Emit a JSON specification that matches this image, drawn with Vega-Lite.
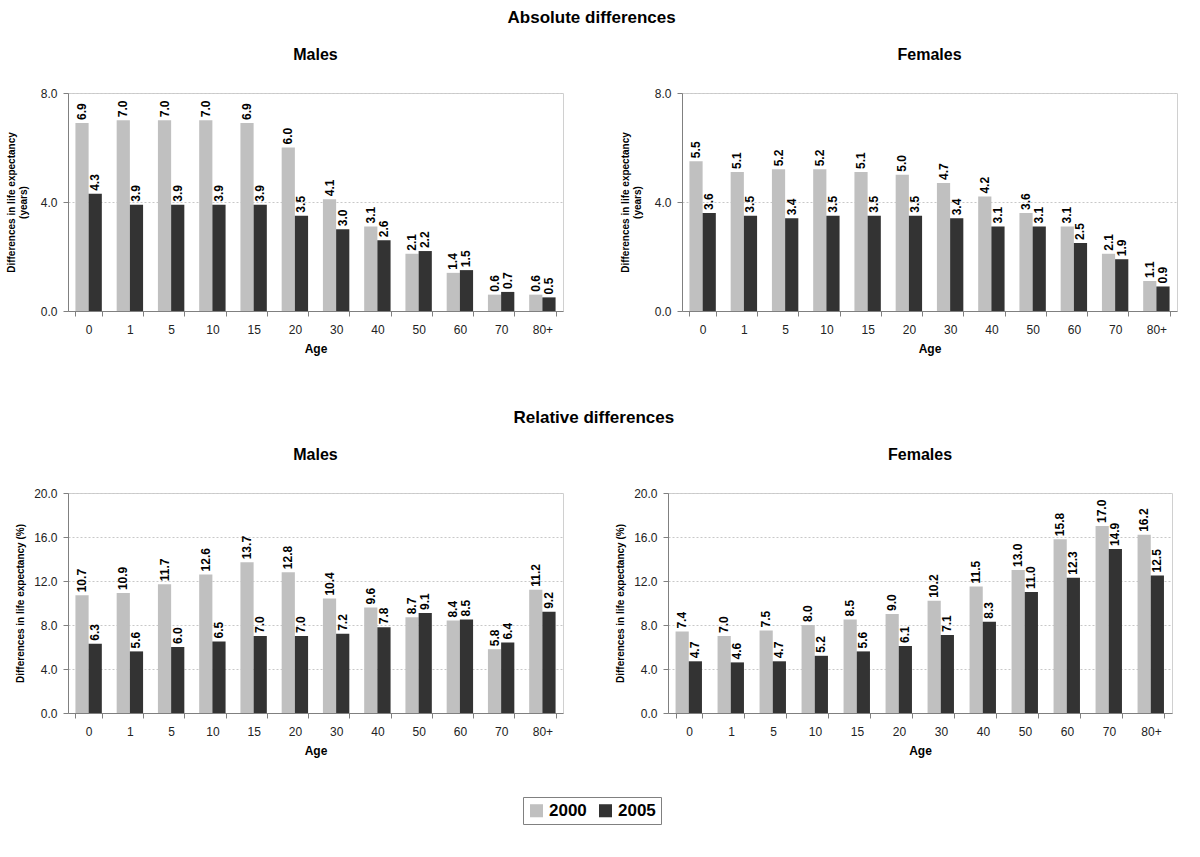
{
  "$schema": "https://vega.github.io/schema/vega-lite/v6.json",
  "background": "white",
  "padding": {"left": 5, "top": 8, "right": 15, "bottom": 5},
  "config": {
    "font": "Liberation Sans",
    "view": {"stroke": "#d0d0d0"},
    "title": {"fontSize": 16, "fontWeight": "bold", "color": "black", "anchor": "middle", "offset": 24},
    "axis": {"labelFont": "Liberation Sans", "titleFont": "Liberation Sans", "domainColor": "#808080", "tickColor": "#808080", "labelColor": "#222", "titleColor": "black", "labelFontSize": 12, "titleFontSize": 10, "titleFontWeight": "bold"},
    "axisX": {"labelAngle": 0, "tickBand": "extent", "labelPadding": 8, "titlePadding": 8, "grid": false, "tickSize": 5, "titleFontSize": 12},
    "axisY": {"grid": true, "gridColor": "#c8c8c8", "gridDash": [2, 2], "tickSize": 5, "labelPadding": 6, "titlePadding": 8},
    "legend": {"orient": "bottom", "direction": "horizontal", "title": null, "symbolType": "square", "symbolSize": 170, "symbolStrokeWidth": 0, "labelFontSize": 17, "labelFontWeight": "bold", "labelColor": "black", "strokeColor": "#808080", "padding": 5, "offset": 40, "columnPadding": 10, "layout": {"bottom": {"anchor": "middle"}}}
  },
  "data": {"values": [
    {"t":"abs","s":"Males","a":"0","y":"2000","v":6.9},{"t":"abs","s":"Males","a":"1","y":"2000","v":7.0},{"t":"abs","s":"Males","a":"5","y":"2000","v":7.0},{"t":"abs","s":"Males","a":"10","y":"2000","v":7.0},{"t":"abs","s":"Males","a":"15","y":"2000","v":6.9},{"t":"abs","s":"Males","a":"20","y":"2000","v":6.0},{"t":"abs","s":"Males","a":"30","y":"2000","v":4.1},{"t":"abs","s":"Males","a":"40","y":"2000","v":3.1},{"t":"abs","s":"Males","a":"50","y":"2000","v":2.1},{"t":"abs","s":"Males","a":"60","y":"2000","v":1.4},{"t":"abs","s":"Males","a":"70","y":"2000","v":0.6},{"t":"abs","s":"Males","a":"80+","y":"2000","v":0.6},
    {"t":"abs","s":"Males","a":"0","y":"2005","v":4.3},{"t":"abs","s":"Males","a":"1","y":"2005","v":3.9},{"t":"abs","s":"Males","a":"5","y":"2005","v":3.9},{"t":"abs","s":"Males","a":"10","y":"2005","v":3.9},{"t":"abs","s":"Males","a":"15","y":"2005","v":3.9},{"t":"abs","s":"Males","a":"20","y":"2005","v":3.5},{"t":"abs","s":"Males","a":"30","y":"2005","v":3.0},{"t":"abs","s":"Males","a":"40","y":"2005","v":2.6},{"t":"abs","s":"Males","a":"50","y":"2005","v":2.2},{"t":"abs","s":"Males","a":"60","y":"2005","v":1.5},{"t":"abs","s":"Males","a":"70","y":"2005","v":0.7},{"t":"abs","s":"Males","a":"80+","y":"2005","v":0.5},
    {"t":"abs","s":"Females","a":"0","y":"2000","v":5.5},{"t":"abs","s":"Females","a":"1","y":"2000","v":5.1},{"t":"abs","s":"Females","a":"5","y":"2000","v":5.2},{"t":"abs","s":"Females","a":"10","y":"2000","v":5.2},{"t":"abs","s":"Females","a":"15","y":"2000","v":5.1},{"t":"abs","s":"Females","a":"20","y":"2000","v":5.0},{"t":"abs","s":"Females","a":"30","y":"2000","v":4.7},{"t":"abs","s":"Females","a":"40","y":"2000","v":4.2},{"t":"abs","s":"Females","a":"50","y":"2000","v":3.6},{"t":"abs","s":"Females","a":"60","y":"2000","v":3.1},{"t":"abs","s":"Females","a":"70","y":"2000","v":2.1},{"t":"abs","s":"Females","a":"80+","y":"2000","v":1.1},
    {"t":"abs","s":"Females","a":"0","y":"2005","v":3.6},{"t":"abs","s":"Females","a":"1","y":"2005","v":3.5},{"t":"abs","s":"Females","a":"5","y":"2005","v":3.4},{"t":"abs","s":"Females","a":"10","y":"2005","v":3.5},{"t":"abs","s":"Females","a":"15","y":"2005","v":3.5},{"t":"abs","s":"Females","a":"20","y":"2005","v":3.5},{"t":"abs","s":"Females","a":"30","y":"2005","v":3.4},{"t":"abs","s":"Females","a":"40","y":"2005","v":3.1},{"t":"abs","s":"Females","a":"50","y":"2005","v":3.1},{"t":"abs","s":"Females","a":"60","y":"2005","v":2.5},{"t":"abs","s":"Females","a":"70","y":"2005","v":1.9},{"t":"abs","s":"Females","a":"80+","y":"2005","v":0.9},
    {"t":"rel","s":"Males","a":"0","y":"2000","v":10.7},{"t":"rel","s":"Males","a":"1","y":"2000","v":10.9},{"t":"rel","s":"Males","a":"5","y":"2000","v":11.7},{"t":"rel","s":"Males","a":"10","y":"2000","v":12.6},{"t":"rel","s":"Males","a":"15","y":"2000","v":13.7},{"t":"rel","s":"Males","a":"20","y":"2000","v":12.8},{"t":"rel","s":"Males","a":"30","y":"2000","v":10.4},{"t":"rel","s":"Males","a":"40","y":"2000","v":9.6},{"t":"rel","s":"Males","a":"50","y":"2000","v":8.7},{"t":"rel","s":"Males","a":"60","y":"2000","v":8.4},{"t":"rel","s":"Males","a":"70","y":"2000","v":5.8},{"t":"rel","s":"Males","a":"80+","y":"2000","v":11.2},
    {"t":"rel","s":"Males","a":"0","y":"2005","v":6.3},{"t":"rel","s":"Males","a":"1","y":"2005","v":5.6},{"t":"rel","s":"Males","a":"5","y":"2005","v":6.0},{"t":"rel","s":"Males","a":"10","y":"2005","v":6.5},{"t":"rel","s":"Males","a":"15","y":"2005","v":7.0},{"t":"rel","s":"Males","a":"20","y":"2005","v":7.0},{"t":"rel","s":"Males","a":"30","y":"2005","v":7.2},{"t":"rel","s":"Males","a":"40","y":"2005","v":7.8},{"t":"rel","s":"Males","a":"50","y":"2005","v":9.1},{"t":"rel","s":"Males","a":"60","y":"2005","v":8.5},{"t":"rel","s":"Males","a":"70","y":"2005","v":6.4},{"t":"rel","s":"Males","a":"80+","y":"2005","v":9.2},
    {"t":"rel","s":"Females","a":"0","y":"2000","v":7.4},{"t":"rel","s":"Females","a":"1","y":"2000","v":7.0},{"t":"rel","s":"Females","a":"5","y":"2000","v":7.5},{"t":"rel","s":"Females","a":"10","y":"2000","v":8.0},{"t":"rel","s":"Females","a":"15","y":"2000","v":8.5},{"t":"rel","s":"Females","a":"20","y":"2000","v":9.0},{"t":"rel","s":"Females","a":"30","y":"2000","v":10.2},{"t":"rel","s":"Females","a":"40","y":"2000","v":11.5},{"t":"rel","s":"Females","a":"50","y":"2000","v":13.0},{"t":"rel","s":"Females","a":"60","y":"2000","v":15.8},{"t":"rel","s":"Females","a":"70","y":"2000","v":17.0},{"t":"rel","s":"Females","a":"80+","y":"2000","v":16.2},
    {"t":"rel","s":"Females","a":"0","y":"2005","v":4.7},{"t":"rel","s":"Females","a":"1","y":"2005","v":4.6},{"t":"rel","s":"Females","a":"5","y":"2005","v":4.7},{"t":"rel","s":"Females","a":"10","y":"2005","v":5.2},{"t":"rel","s":"Females","a":"15","y":"2005","v":5.6},{"t":"rel","s":"Females","a":"20","y":"2005","v":6.1},{"t":"rel","s":"Females","a":"30","y":"2005","v":7.1},{"t":"rel","s":"Females","a":"40","y":"2005","v":8.3},{"t":"rel","s":"Females","a":"50","y":"2005","v":11.0},{"t":"rel","s":"Females","a":"60","y":"2005","v":12.3},{"t":"rel","s":"Females","a":"70","y":"2005","v":14.9},{"t":"rel","s":"Females","a":"80+","y":"2005","v":12.5}
  ]},
  "spacing": 53,
  "vconcat": [
    {
      "title": {"text": "Absolute differences", "fontSize": 17, "offset": 20},
      "spacing": 55,
      "hconcat": [
        {
          "width": 495, "height": 218, "title": "Males",
          "transform": [{"filter": "datum.t == 'abs' && datum.s == 'Males'"}],
          "encoding": {
            "x": {"field": "a", "type": "nominal", "sort": ["0","1","5","10","15","20","30","40","50","60","70","80+"], "title": "Age", "scale": {"paddingInner": 0.36, "paddingOuter": 0.18}},
            "xOffset": {"field": "y", "type": "nominal", "scale": {"paddingInner": 0, "paddingOuter": 0}},
            "y": {"field": "v", "type": "quantitative", "scale": {"domain": [0, 8]}, "axis": {"values": [0, 4, 8], "format": ".1f", "titlePadding": 12, "title": ["Differences in life expectancy", "(years)"]}}
          },
          "layer": [
            {"mark": "bar", "encoding": {"color": {"field": "y", "type": "nominal", "scale": {"domain": ["2000", "2005"], "range": ["#c0c0c0", "#333333"]}}}},
            {"mark": {"type": "text", "angle": 270, "align": "left", "baseline": "middle", "dx": 3, "fontSize": 12, "fontWeight": "bold", "color": "black"}, "encoding": {"text": {"field": "v", "type": "quantitative", "format": ".1f"}}}
          ]
        },
        {
          "width": 495, "height": 218, "title": "Females",
          "transform": [{"filter": "datum.t == 'abs' && datum.s == 'Females'"}],
          "encoding": {
            "x": {"field": "a", "type": "nominal", "sort": ["0","1","5","10","15","20","30","40","50","60","70","80+"], "title": "Age", "scale": {"paddingInner": 0.36, "paddingOuter": 0.18}},
            "xOffset": {"field": "y", "type": "nominal", "scale": {"paddingInner": 0, "paddingOuter": 0}},
            "y": {"field": "v", "type": "quantitative", "scale": {"domain": [0, 8]}, "axis": {"values": [0, 4, 8], "format": ".1f", "titlePadding": 12, "title": ["Differences in life expectancy", "(years)"]}}
          },
          "layer": [
            {"mark": "bar", "encoding": {"color": {"field": "y", "type": "nominal", "scale": {"domain": ["2000", "2005"], "range": ["#c0c0c0", "#333333"]}}}},
            {"mark": {"type": "text", "angle": 270, "align": "left", "baseline": "middle", "dx": 3, "fontSize": 12, "fontWeight": "bold", "color": "black"}, "encoding": {"text": {"field": "v", "type": "quantitative", "format": ".1f"}}}
          ]
        }
      ]
    },
    {
      "title": {"text": "Relative differences", "fontSize": 17, "offset": 20},
      "spacing": 51,
      "hconcat": [
        {
          "width": 495, "height": 220, "title": "Males",
          "transform": [{"filter": "datum.t == 'rel' && datum.s == 'Males'"}],
          "encoding": {
            "x": {"field": "a", "type": "nominal", "sort": ["0","1","5","10","15","20","30","40","50","60","70","80+"], "title": "Age", "scale": {"paddingInner": 0.36, "paddingOuter": 0.18}},
            "xOffset": {"field": "y", "type": "nominal", "scale": {"paddingInner": 0, "paddingOuter": 0}},
            "y": {"field": "v", "type": "quantitative", "scale": {"domain": [0, 20]}, "axis": {"values": [0, 4, 8, 12, 16, 20], "format": ".1f", "title": "Differences in life expectancy (%)"}}
          },
          "layer": [
            {"mark": "bar", "encoding": {"color": {"field": "y", "type": "nominal", "scale": {"domain": ["2000", "2005"], "range": ["#c0c0c0", "#333333"]}}}},
            {"mark": {"type": "text", "angle": 270, "align": "left", "baseline": "middle", "dx": 3, "fontSize": 12, "fontWeight": "bold", "color": "black"}, "encoding": {"text": {"field": "v", "type": "quantitative", "format": ".1f"}}}
          ]
        },
        {
          "width": 504, "height": 220, "title": "Females",
          "transform": [{"filter": "datum.t == 'rel' && datum.s == 'Females'"}],
          "encoding": {
            "x": {"field": "a", "type": "nominal", "sort": ["0","1","5","10","15","20","30","40","50","60","70","80+"], "title": "Age", "scale": {"paddingInner": 0.36, "paddingOuter": 0.18}},
            "xOffset": {"field": "y", "type": "nominal", "scale": {"paddingInner": 0, "paddingOuter": 0}},
            "y": {"field": "v", "type": "quantitative", "scale": {"domain": [0, 20]}, "axis": {"values": [0, 4, 8, 12, 16, 20], "format": ".1f", "title": "Differences in life expectancy (%)"}}
          },
          "layer": [
            {"mark": "bar", "encoding": {"color": {"field": "y", "type": "nominal", "scale": {"domain": ["2000", "2005"], "range": ["#c0c0c0", "#333333"]}}}},
            {"mark": {"type": "text", "angle": 270, "align": "left", "baseline": "middle", "dx": 3, "fontSize": 12, "fontWeight": "bold", "color": "black"}, "encoding": {"text": {"field": "v", "type": "quantitative", "format": ".1f"}}}
          ]
        }
      ]
    }
  ]
}
